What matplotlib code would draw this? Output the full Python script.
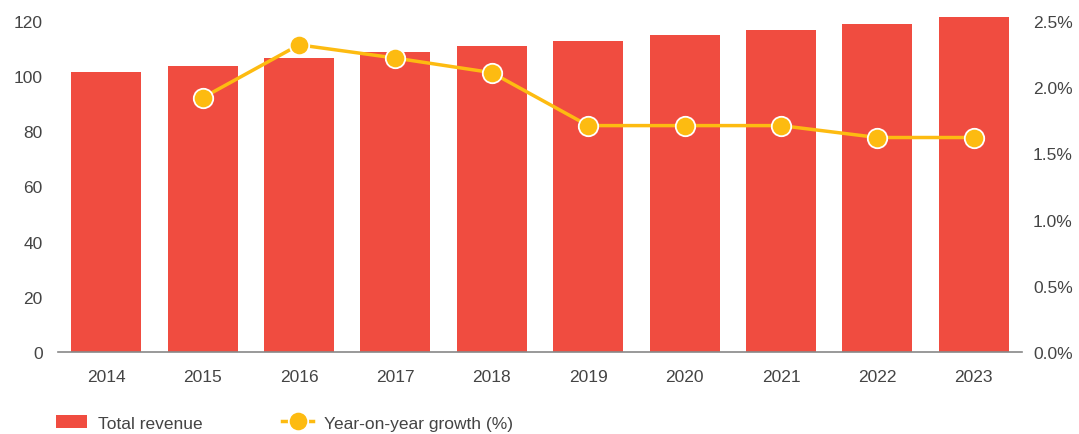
import matplotlib
matplotlib.use("Agg")
import matplotlib.pyplot as plt
from matplotlib.ticker import FuncFormatter

years = ['2014', '2015', '2016', '2017', '2018', '2019', '2020', '2021', '2022', '2023']
revenue = [101.5, 103.7, 106.6, 108.8, 110.9, 112.8, 114.9, 116.8, 118.9, 121.3]
growth_years = years[1:]
growth = [1.92, 2.32, 2.22, 2.11, 1.71, 1.71, 1.71, 1.62, 1.62]

bar_color = '#F04C40'
line_color = '#FDBB11'
text_color = '#444444'

plt.rcParams['font.family'] = ['Liberation Sans', 'DejaVu Sans']
plt.rcParams['font.size'] = 12.5

fig = plt.figure(figsize=(10.79, 4.35), dpi=100)
ax1 = fig.add_axes([58 / 1079, 1 - 353 / 435, 964 / 1079, 331 / 435])
ax2 = ax1.twinx()

x = list(range(len(years)))
bars = ax1.bar(x, revenue, width=0.726, color=bar_color, zorder=2, label='Total revenue',
               clip_on=False)
gx = [years.index(y) for y in growth_years]
line, = ax2.plot(gx, growth, color=line_color, linewidth=2.5, marker='o', markersize=14,
                 markerfacecolor=line_color, markeredgecolor='white', markeredgewidth=1.3,
                 zorder=3, label='Year-on-year growth (%)', clip_on=False)

ax1.set_xlim(-0.5, len(years) - 0.5)
ax1.set_ylim(0, 120)
ax1.set_yticks([0, 20, 40, 60, 80, 100, 120])
ax2.set_ylim(0, 2.5)
ax2.set_yticks([0, 0.5, 1.0, 1.5, 2.0, 2.5])
ax2.yaxis.set_major_formatter(FuncFormatter(lambda v, p: f'{v:.1f}%'))
ax1.set_xticks(x)
ax1.set_xticklabels(years)

for ax in (ax1, ax2):
    for s in ('top', 'left', 'right', 'bottom'):
        ax.spines[s].set_visible(False)
ax1.spines['bottom'].set_visible(True)
ax1.spines['bottom'].set_color('#888888')
ax1.spines['bottom'].set_linewidth(1.2)
ax1.spines['bottom'].set_zorder(4)

ax1.tick_params(axis='y', length=0, pad=11, colors=text_color)
ax1.tick_params(axis='x', length=0, pad=12, colors=text_color)
ax2.tick_params(axis='y', length=0, pad=8, colors=text_color)

ax1.set_zorder(ax2.get_zorder() - 1)
ax2.patch.set_visible(False)

fig.legend(handles=[bars, line], loc='center left', bbox_to_anchor=(56 / 1079, 1 - 424 / 435),
           ncol=2, frameon=False, handlelength=1.8, handletextpad=0.6, columnspacing=4.6,
           borderpad=0, borderaxespad=0, labelcolor=text_color)

fig.savefig('out.png', dpi=100)
